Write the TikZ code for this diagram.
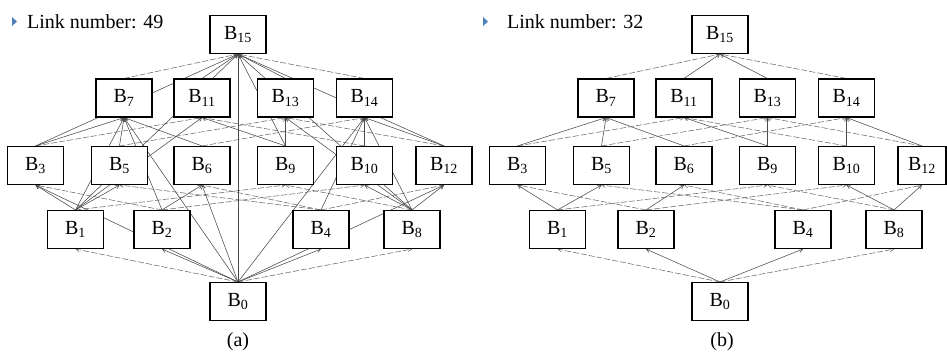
\documentclass[tikz,border=0pt]{standalone}
\usepackage{fontspec}
\setmainfont{Liberation Serif}
\usetikzlibrary{arrows.meta}
\pgfdeclarelayer{bg}
\pgfsetlayers{bg,main}
\definecolor{edgegray}{HTML}{4A4A4A}
\definecolor{dashgray}{HTML}{6A6A6A}
\definecolor{bulletblue}{HTML}{4F81BD}
\begin{document}
\begin{tikzpicture}[x=1pt,y=-1pt,
  bx/.style={draw=black,line width=1.1pt,fill=white,minimum width=56pt,minimum height=38pt,inner sep=0pt,font=\fontsize{20}{20}\selectfont},
  ln/.style={draw=edgegray,line width=0.55pt,-{Straight Barb[length=3.5pt,width=4pt]}},
  dl/.style={ln,draw=dashgray,dash pattern=on 6pt off 2pt},
  lbl/.style={anchor=base west,inner sep=0pt,font=\fontsize{20}{20}\selectfont},
  captxt/.style={inner sep=0pt,font=\fontsize{20}{20}\selectfont},
  tri/.style={fill=bulletblue,draw=none}]
\useasboundingbox (0,0) rectangle (947,351);

% ---------- diagram (a) ----------
\node[bx] (a15) at (238,34.5) {B\textsubscript{15}};
\node[bx] (a7)  at (124,98) {B\textsubscript{7}};
\node[bx] (a11) at (202,98) {B\textsubscript{11}};
\node[bx] (a13) at (285.5,98) {B\textsubscript{13}};
\node[bx] (a14) at (364.5,98) {B\textsubscript{14}};
\node[bx] (a3)  at (35.5,165.5) {B\textsubscript{3}};
\node[bx] (a5)  at (119.5,165.5) {B\textsubscript{5}};
\node[bx] (a6)  at (202,165.5) {B\textsubscript{6}};
\node[bx] (a9)  at (285.5,165.5) {B\textsubscript{9}};
\node[bx] (a10) at (364.5,165.5) {B\textsubscript{10}};
\node[bx] (a12) at (444,165.5) {B\textsubscript{12}};
\node[bx] (a1)  at (75.5,229.5) {B\textsubscript{1}};
\node[bx] (a2)  at (162,229.5) {B\textsubscript{2}};
\node[bx] (a4)  at (321,229.5) {B\textsubscript{4}};
\node[bx] (a8)  at (412,229.5) {B\textsubscript{8}};
\node[bx] (a0)  at (238,301.5) {B\textsubscript{0}};

% ---------- diagram (b) ----------
\node[bx] (b15) at (720,34.5) {B\textsubscript{15}};
\node[bx] (b7)  at (606,98) {B\textsubscript{7}};
\node[bx] (b11) at (684,98) {B\textsubscript{11}};
\node[bx] (b13) at (767.5,98) {B\textsubscript{13}};
\node[bx] (b14) at (846.5,98) {B\textsubscript{14}};
\node[bx] (b3)  at (517.5,165.5) {B\textsubscript{3}};
\node[bx] (b5)  at (601.5,165.5) {B\textsubscript{5}};
\node[bx] (b6)  at (684,165.5) {B\textsubscript{6}};
\node[bx] (b9)  at (767.5,165.5) {B\textsubscript{9}};
\node[bx] (b10) at (846.5,165.5) {B\textsubscript{10}};
\node[bx,minimum width=48pt] (b12) at (922,165.5) {B\textsubscript{12}};
\node[bx] (b1)  at (557.5,229.5) {B\textsubscript{1}};
\node[bx] (b2)  at (646,229.5) {B\textsubscript{2}};
\node[bx] (b4)  at (803,229.5) {B\textsubscript{4}};
\node[bx] (b8)  at (894,229.5) {B\textsubscript{8}};
\node[bx] (b0)  at (720,301.5) {B\textsubscript{0}};

% ---------- edges ----------
\begin{pgfonlayer}{bg}
\foreach \p in {a,b}{
  \foreach \u/\v in {0/2,0/4,1/3,1/5,2/6,8/10,8/12,3/7,5/7,6/7,9/11,9/13,10/14,12/14,11/15,13/15}
    \draw[ln] (\p\u.north) -- (\p\v.south);
  \foreach \u/\v in {0/1,0/8,1/9,2/3,2/10,4/5,4/6,4/12,8/9,3/11,5/13,6/14,10/11,12/13,7/15,14/15}
    \draw[dl] (\p\u.north) -- (\p\v.south);
}
\foreach \u/\v in {0/3,0/6,0/12,0/7,0/14,0/15,12/15,9/15,3/15,8/15,1/15,1/7,8/14,2/7,8/13,4/14,1/11}
  \draw[ln] (a\u.north) -- (a\v.south);
\end{pgfonlayer}

% ---------- labels ----------
\fill[tri] (12,17) -- (17,21.5) -- (12,26) -- cycle;
\node[lbl] (la) at (27,28) {Link number: 49};
\fill[tri] (483,17) -- (488,21.5) -- (483,26) -- cycle;
\node[lbl] (lb) at (507,28) {Link number: 32};
\node[captxt] (ca) at (238,342) {(a)};
\node[captxt] (cb) at (722,342) {(b)};
\end{tikzpicture}
\end{document}
